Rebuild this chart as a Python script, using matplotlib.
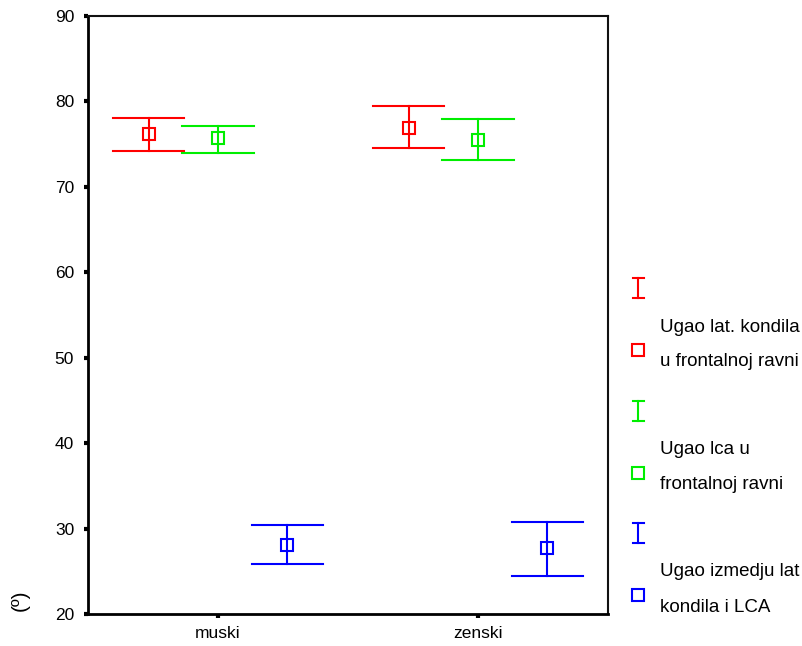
import matplotlib
matplotlib.use('Agg')
import matplotlib.pyplot as plt
from matplotlib.lines import Line2D

plt.rcParams['font.family'] = ['Liberation Sans', 'DejaVu Sans']

# data
groups = ['muski', 'zenski']
series = ['Ugao lat. kondila\nu frontalnoj ravni', 'Ugao lca u\nfrontalnoj ravni', 'Ugao izmedju lat\nkondila i LCA']
colors = ['#ff0000', '#00ee00', '#0000ff']
means = [[76.2, 76.9], [75.7, 75.5], [28.1, 27.7]]
lower = [[74.2, 74.6], [74.0, 73.2], [25.8, 24.5]]
upper = [[78.1, 79.5], [77.1, 77.9], [30.4, 30.8]]
yticks = [20, 30, 40, 50, 60, 70, 80, 90]

fig = plt.figure(figsize=(8.03, 6.46), dpi=100)
ax = fig.add_axes([88 / 803, 32 / 646, 520 / 803, 598 / 646])

offsets = [-0.266, 0, 0.266]
capw = 0.137
for i in range(len(series)):
    for j in range(len(groups)):
        x = j + offsets[i]
        ax.plot([x, x], [lower[i][j], upper[i][j]], color=colors[i], lw=1.5)
        ax.plot([x - capw, x + capw], [lower[i][j], lower[i][j]], color=colors[i], lw=1.5)
        ax.plot([x - capw, x + capw], [upper[i][j], upper[i][j]], color=colors[i], lw=1.5)
        ax.plot([x], [means[i][j]], marker='s', ms=9, mfc='none', mec=colors[i], mew=1.5)

ax.set_xlim(-0.5, 1.5)
ax.set_ylim(20, 90)
ax.set_yticks(yticks)
ax.set_xticks(range(len(groups)))
ax.set_xticklabels(groups, fontsize=13)
ax.tick_params(axis='both', direction='out', length=3, width=3, labelsize=12.5)
ax.tick_params(axis='y', pad=7)
ax.tick_params(axis='x', pad=6)
for s in ['left', 'bottom']:
    ax.spines[s].set_linewidth(2)
for s in ['top', 'right']:
    ax.spines[s].set_linewidth(1.5)
    ax.spines[s].set_color('#111111')

fig.text(20 / 803, 1 - 600 / 646, '(º)', rotation=90, va='center', ha='center', fontsize=15)

# legend drawn by hand, clipped at the right edge like the original
H = 646.0
W = 803.0
def fx(px):
    return px / W
def fy(py):
    return 1 - py / H

for i in range(len(series)):
    y0 = 288 + 122.5 * i
    c = colors[i]
    fig.add_artist(Line2D([fx(638), fx(638)], [fy(y0 - 10), fy(y0 + 10)], color=c, lw=1.5))
    fig.add_artist(Line2D([fx(633), fx(644)], [fy(y0 - 10), fy(y0 - 10)], color=c, lw=1.5))
    fig.add_artist(Line2D([fx(633), fx(644)], [fy(y0 + 10), fy(y0 + 10)], color=c, lw=1.5))
    fig.add_artist(Line2D([fx(638)], [fy(y0 + 62)], marker='s', ms=8, mfc='none', mec=c, mew=1.5))
    lines = series[i].split('\n')
    fig.text(fx(660), fy(y0 + 39), lines[0], va='center', ha='left', fontsize=13.5)
    fig.text(fx(660), fy(y0 + 74), lines[1], va='center', ha='left', fontsize=13.5)

fig.savefig('out.png', dpi=100)
